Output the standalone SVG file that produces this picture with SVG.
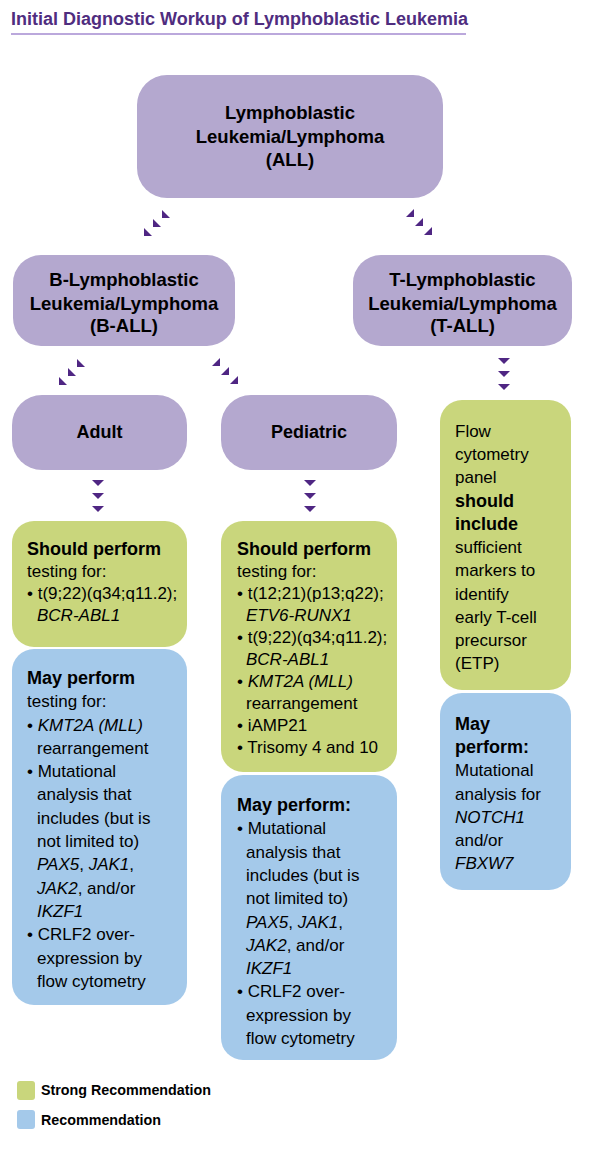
<svg xmlns="http://www.w3.org/2000/svg" width="590" height="1170" viewBox="0 0 590 1170">
<style>
text{font-family:"Liberation Sans",Arial,sans-serif;fill:#000;}
.title{font-size:18px;font-weight:bold;fill:#4f2d7f;}
.h{font-size:18.5px;font-weight:bold;text-anchor:middle;}
.h2{font-size:18px;font-weight:bold;text-anchor:middle;}
.b{font-size:17px;}
.bb{font-weight:bold;font-size:18px;}
.i{font-style:italic;}
.lg{font-size:14.3px;font-weight:bold;}
.purple{fill:#b4a8cf;}
.green{fill:#c9d67c;}
.blue{fill:#a4c9ea;}
.arr{fill:#4f2683;}
</style>
<defs>
<polygon id="ad" points="-6,-3 6,-3 0,3"/>
<polygon id="adl" points="-4,-4 -4,4 4,4"/>
<polygon id="adr" points="4,-4 4,4 -4,4"/>
</defs>

<text class="title" x="11" y="25">Initial Diagnostic Workup of Lymphoblastic Leukemia</text>
<line x1="11" y1="34" x2="466" y2="34" stroke="#a58bd0" stroke-width="1.5"/>

<g id="connectors" class="arr">
<use href="#adl" x="148" y="232"/>
<use href="#adl" x="157" y="223"/>
<use href="#adl" x="166" y="214"/>
<use href="#adr" x="410" y="213"/>
<use href="#adr" x="419" y="222"/>
<use href="#adr" x="428" y="231"/>
<use href="#adl" x="63" y="381"/>
<use href="#adl" x="72" y="372"/>
<use href="#adl" x="81" y="363"/>
<use href="#adr" x="216" y="362"/>
<use href="#adr" x="225" y="371"/>
<use href="#adr" x="234" y="380"/>
<use href="#ad" x="98" y="483"/>
<use href="#ad" x="98" y="496"/>
<use href="#ad" x="98" y="509"/>
<use href="#ad" x="310" y="483"/>
<use href="#ad" x="310" y="496"/>
<use href="#ad" x="310" y="509"/>
<use href="#ad" x="504" y="361"/>
<use href="#ad" x="504" y="374"/>
<use href="#ad" x="504" y="387"/>
</g>

<g id="all">
<rect class="purple" x="137" y="75" width="306" height="123" rx="30"/>
<text class="h" x="290" y="119">Lymphoblastic</text>
<text class="h" x="290" y="143">Leukemia/Lymphoma</text>
<text class="h" x="290" y="166">(ALL)</text>
</g>

<g id="ball">
<rect class="purple" x="13" y="255" width="222" height="91" rx="28"/>
<text class="h" x="124" y="286">B-Lymphoblastic</text>
<text class="h" x="124" y="310">Leukemia/Lymphoma</text>
<text class="h" x="124" y="332">(B-ALL)</text>
</g>

<g id="tall">
<rect class="purple" x="353" y="255" width="219" height="91" rx="28"/>
<text class="h" x="462.5" y="286">T-Lymphoblastic</text>
<text class="h" x="462.5" y="310">Leukemia/Lymphoma</text>
<text class="h" x="462.5" y="332">(T-ALL)</text>
</g>

<g id="adult">
<rect class="purple" x="12" y="395" width="175" height="75" rx="30"/>
<text class="h2" x="99.5" y="438">Adult</text>
</g>

<g id="pediatric">
<rect class="purple" x="221" y="395" width="176" height="75" rx="30"/>
<text class="h2" x="309" y="438">Pediatric</text>
</g>

<g id="adult-should">
<rect class="green" x="12" y="521" width="175" height="126" rx="22"/>
<text class="b" x="27" y="555"><tspan class="bb">Should perform</tspan></text>
<text class="b" x="27" y="577">testing for:</text>
<text class="b" x="27" y="599">• t(9;22)(q34;q11.2);</text>
<text class="b i" x="37" y="621">BCR-ABL1</text>
</g>

<g id="adult-may">
<rect class="blue" x="12" y="649" width="175" height="356" rx="22"/>
<text class="b" x="27" y="684"><tspan class="bb">May perform</tspan></text>
<text class="b" x="27" y="707">testing for:</text>
<text class="b" x="27" y="731">• <tspan class="i">KMT2A (MLL)</tspan></text>
<text class="b" x="37" y="754">rearrangement</text>
<text class="b" x="27" y="777">• Mutational</text>
<text class="b" x="37" y="800">analysis that</text>
<text class="b" x="37" y="824">includes (but is</text>
<text class="b" x="37" y="847">not limited to)</text>
<text class="b" x="37" y="870"><tspan class="i">PAX5</tspan>, <tspan class="i">JAK1</tspan>,</text>
<text class="b" x="37" y="894"><tspan class="i">JAK2</tspan>, and/or</text>
<text class="b i" x="37" y="917">IKZF1</text>
<text class="b" x="27" y="940">• CRLF2 over-</text>
<text class="b" x="37" y="964">expression by</text>
<text class="b" x="37" y="987">flow cytometry</text>
</g>

<g id="ped-should">
<rect class="green" x="221" y="521" width="176" height="251" rx="22"/>
<text class="b" x="237" y="555"><tspan class="bb">Should perform</tspan></text>
<text class="b" x="237" y="577">testing for:</text>
<text class="b" x="237" y="599">• t(12;21)(p13;q22);</text>
<text class="b i" x="246" y="621">ETV6-RUNX1</text>
<text class="b" x="237" y="643">• t(9;22)(q34;q11.2);</text>
<text class="b i" x="246" y="665">BCR-ABL1</text>
<text class="b" x="237" y="687">• <tspan class="i">KMT2A (MLL)</tspan></text>
<text class="b" x="246" y="709">rearrangement</text>
<text class="b" x="237" y="731">• iAMP21</text>
<text class="b" x="237" y="753">• Trisomy 4 and 10</text>
</g>

<g id="ped-may">
<rect class="blue" x="221" y="775" width="176" height="285" rx="22"/>
<text class="b" x="237" y="811"><tspan class="bb">May perform:</tspan></text>
<text class="b" x="237" y="834">• Mutational</text>
<text class="b" x="246" y="858">analysis that</text>
<text class="b" x="246" y="881">includes (but is</text>
<text class="b" x="246" y="904">not limited to)</text>
<text class="b" x="246" y="928"><tspan class="i">PAX5</tspan>, <tspan class="i">JAK1</tspan>,</text>
<text class="b" x="246" y="951"><tspan class="i">JAK2</tspan>, and/or</text>
<text class="b i" x="246" y="974">IKZF1</text>
<text class="b" x="237" y="997">• CRLF2 over-</text>
<text class="b" x="246" y="1021">expression by</text>
<text class="b" x="246" y="1044">flow cytometry</text>
</g>

<g id="t-should">
<rect class="green" x="440" y="400" width="131" height="290" rx="22"/>
<text class="b" x="455" y="437">Flow</text>
<text class="b" x="455" y="460">cytometry</text>
<text class="b" x="455" y="483">panel</text>
<text class="b bb" x="455" y="507">should</text>
<text class="b bb" x="455" y="530">include</text>
<text class="b" x="455" y="553">sufficient</text>
<text class="b" x="455" y="576">markers to</text>
<text class="b" x="455" y="600">identify</text>
<text class="b" x="455" y="623">early T-cell</text>
<text class="b" x="455" y="646">precursor</text>
<text class="b" x="455" y="669">(ETP)</text>
</g>

<g id="t-may">
<rect class="blue" x="440" y="693" width="131" height="197" rx="22"/>
<text class="b bb" x="455" y="730">May</text>
<text class="b bb" x="455" y="753">perform:</text>
<text class="b" x="455" y="776">Mutational</text>
<text class="b" x="455" y="800">analysis for</text>
<text class="b i" x="455" y="823">NOTCH1</text>
<text class="b" x="455" y="846">and/or</text>
<text class="b i" x="455" y="869">FBXW7</text>
</g>

<g id="legend">
<rect class="green" x="17" y="1081" width="18" height="19" rx="3"/>
<text class="lg" x="41" y="1095">Strong Recommendation</text>
<rect class="blue" x="17" y="1110" width="18" height="19" rx="3"/>
<text class="lg" x="41" y="1125">Recommendation</text>
</g>
</svg>
